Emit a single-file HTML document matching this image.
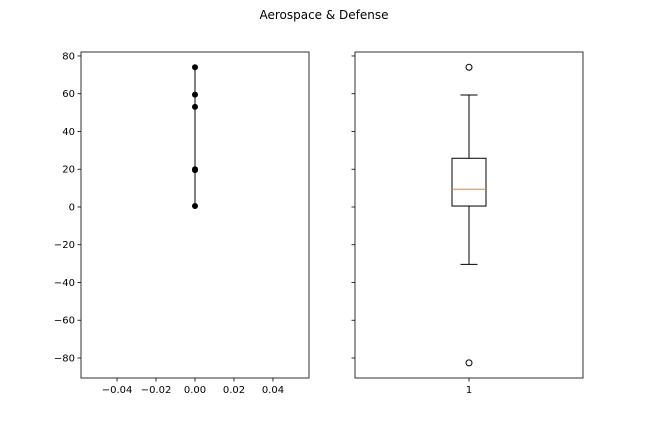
<!DOCTYPE html>
<html><head><meta charset="utf-8"><style>
body{margin:0;background:#fff}
svg{font-family:"DejaVu Sans","Liberation Sans",sans-serif}
</style></head><body>
<svg id="c" width="648" height="432"></svg>
<script>
const points = [74, 59.5, 53, 20, 19.5, 0.5];
const pointX = [0, 0, 0, 0, 0, 0];
const yTicks = [80, 60, 40, 20, 0, -20, -40, -60, -80];
const xTicks = [-0.04, -0.02, 0.00, 0.02, 0.04];
const xTickLabels = ["\u22120.04", "\u22120.02", "0.00", "0.02", "0.04"];
const boxStats = {whislo: -30.4, q1: 0.5, med: 9.4, q3: 25.8, whishi: 59.3};
const fliers = [74, -82.6];
const chartTitle = "Aerospace & Defense";

const NS = "http://www.w3.org/2000/svg";
const svg = document.getElementById('c');
function mk(t, a, p) { const e = document.createElementNS(NS, t); for (const k in a) e.setAttribute(k, a[k]); (p || svg).appendChild(e); return e; }
const yTop = 52, yBot = 378;
const yMin = -90.6, yMax = 82.1;
const y = v => yBot - (v - yMin) / (yMax - yMin) * (yBot - yTop);
const L = {x0: 81, x1: 309}, R = {x0: 355, x1: 583};
const xMin = -0.0585, xMax = 0.0585;
const xL = v => L.x0 + (v - xMin) / (xMax - xMin) * (L.x1 - L.x0);
const xR = v => R.x0 + (v - 0.5) / 1 * (R.x1 - R.x0);

let t = mk('text', {x: 324, y: 19, 'text-anchor': 'middle', 'font-size': 12});
t.textContent = chartTitle;



const gl = mk('g', {});


let fr = mk('rect', {x: L.x0, y: yTop, width: L.x1 - L.x0, height: yBot - yTop, fill: 'none', stroke: '#000', 'stroke-width': 0.8}, gl);


yTicks.forEach(v => {
  mk('line', {x1: L.x0 - 3.5, x2: L.x0, y1: y(v), y2: y(v), stroke: '#000', 'stroke-width': 0.8}, gl);
  const tx = mk('text', {x: L.x0 - 6, y: y(v) + 3.5, 'text-anchor': 'end', 'font-size': 10}, gl);
  tx.textContent = v < 0 ? '\u2212' + (-v) : String(v);
  
  
  mk('line', {x1: R.x0 - 3.5, x2: R.x0, y1: y(v), y2: y(v), stroke: '#000', 'stroke-width': 0.8});
});
xTicks.forEach((v, i) => {
  mk('line', {x1: xL(v), x2: xL(v), y1: yBot, y2: yBot + 3.5, stroke: '#000', 'stroke-width': 0.8}, gl);
  const tx = mk('text', {x: xL(v), y: yBot + 15, 'text-anchor': 'middle', 'font-size': 10}, gl);
  tx.textContent = xTickLabels[i];
  
  
});
const pl = mk('polyline', {points: points.map((v, i) => xL(pointX[i]) + ',' + y(v)).join(' '), fill: 'none', stroke: '#000', 'stroke-width': 1}, gl);


points.forEach((v, i) => {
  const c = mk('circle', {cx: xL(pointX[i]), cy: y(v), r: 3, fill: '#000'}, gl);
  
  
});

const gr = mk('g', {});


fr = mk('rect', {x: R.x0, y: yTop, width: R.x1 - R.x0, height: yBot - yTop, fill: 'none', stroke: '#000', 'stroke-width': 0.8}, gr);


const cx = xR(1);
mk('line', {x1: cx, x2: cx, y1: yBot, y2: yBot + 3.5, stroke: '#000', 'stroke-width': 0.8}, gr);
t = mk('text', {x: cx, y: yBot + 15, 'text-anchor': 'middle', 'font-size': 10}, gr);
t.textContent = '1';


const bw = 34, cw = 17;
const bx = mk('g', {}, gr);


mk('line', {x1: cx, x2: cx, y1: y(boxStats.q3), y2: y(boxStats.whishi), stroke: '#000'}, bx);
mk('line', {x1: cx, x2: cx, y1: y(boxStats.q1), y2: y(boxStats.whislo), stroke: '#000'}, bx);
mk('line', {x1: cx - cw / 2, x2: cx + cw / 2, y1: y(boxStats.whishi), y2: y(boxStats.whishi), stroke: '#000'}, bx);
mk('line', {x1: cx - cw / 2, x2: cx + cw / 2, y1: y(boxStats.whislo), y2: y(boxStats.whislo), stroke: '#000'}, bx);
mk('rect', {x: cx - bw / 2, y: y(boxStats.q3), width: bw, height: y(boxStats.q1) - y(boxStats.q3), fill: 'none', stroke: '#000'}, bx);
mk('line', {x1: cx - bw / 2, x2: cx + bw / 2, y1: y(boxStats.med), y2: y(boxStats.med), stroke: '#ff7f0e'}, bx);
fliers.forEach(v => {
  const c = mk('circle', {cx: cx, cy: y(v), r: 3, fill: 'none', stroke: '#000'}, gr);
  
  
});
</script>
</body></html>
